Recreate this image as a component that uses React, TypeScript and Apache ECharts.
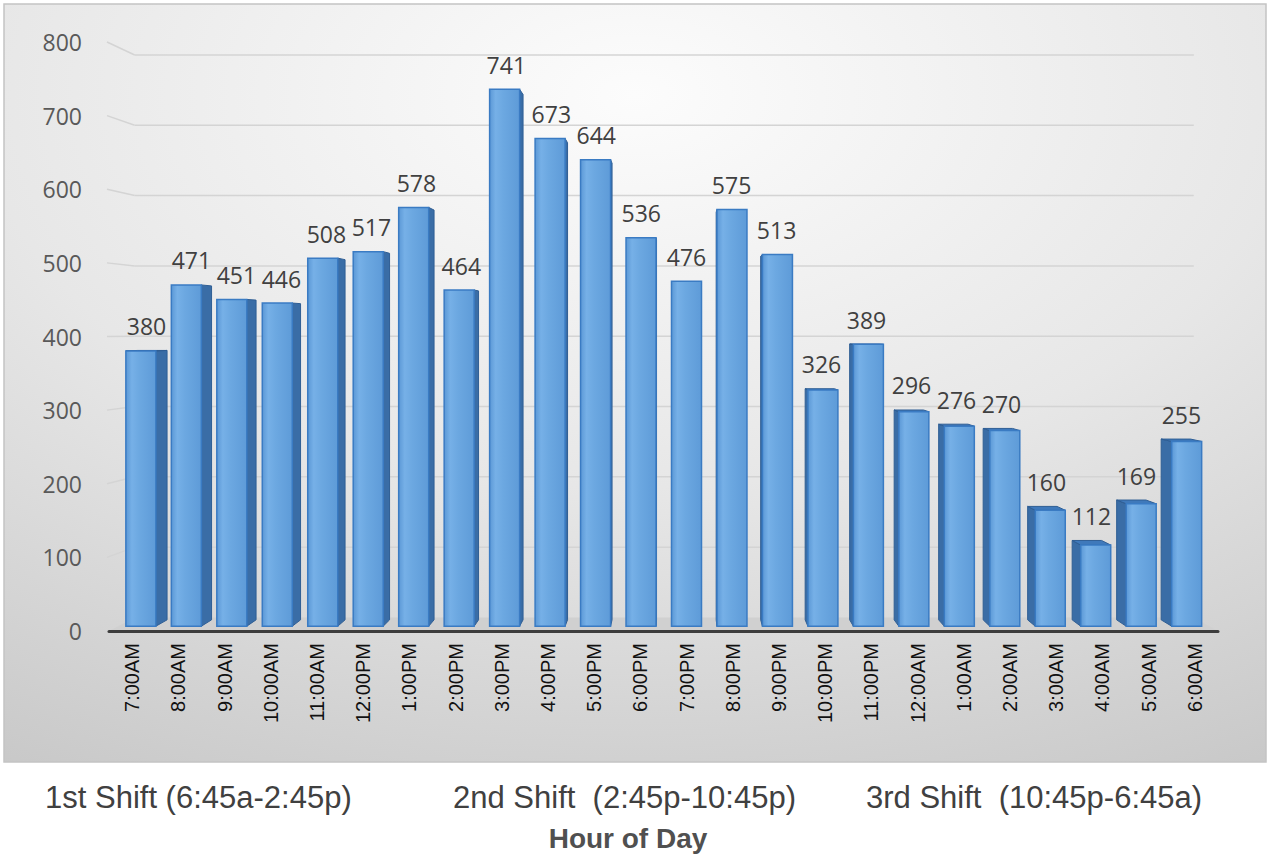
import React, { useEffect, useRef } from "react";
import * as echarts from "echarts";

// Hourly counts, one bar per hour from 7:00AM to 6:00AM
const hours = [
  "7:00AM", "8:00AM", "9:00AM", "10:00AM", "11:00AM", "12:00PM",
  "1:00PM", "2:00PM", "3:00PM", "4:00PM", "5:00PM", "6:00PM",
  "7:00PM", "8:00PM", "9:00PM", "10:00PM", "11:00PM", "12:00AM",
  "1:00AM", "2:00AM", "3:00AM", "4:00AM", "5:00AM", "6:00AM",
];
const counts = [
  380, 471, 451, 446, 508, 517, 578, 464, 741, 673, 644, 536,
  476, 575, 513, 326, 389, 296, 276, 270, 160, 112, 169, 255,
];
const yMin = 0;
const yMax = 800;
const yStep = 100;
const wallLevels = [0, 100, 200, 300, 400, 500, 600, 700, 800];
const shiftLabels = [
  "1st Shift (6:45a-2:45p)",
  "2nd Shift  (2:45p-10:45p)",
  "3rd Shift  (10:45p-6:45a)",
];
const axisTitle = "Hour of Day";

// Perspective: every depth plane is pulled toward a vanishing point
const VX = 680;
const VY = 330;
const FRONT_DEPTH = 0.016;
const BACK_DEPTH = 0.037;
const WALL_DEPTH = 0.045;
const BAR_RATIO = 0.66;

const project = (x: number, y: number, d: number): [number, number] => [
  x + (VX - x) * d,
  y + (VY - y) * d,
];

const labelFont = "'Open Sans', 'Noto Sans', sans-serif";
const plainFont = "'Liberation Sans', Arial, sans-serif";

function renderWall(params: any, api: any) {
  const v = api.value(1);
  const [, y] = api.coord([0, v]);
  const cs = params.coordSys;
  const left = cs.x;
  const right = cs.x + cs.width;
  const wl = project(left, y, WALL_DEPTH);
  const wr = project(right, y, WALL_DEPTH);
  if (v === 0) {
    // floor strip between the axis line and the back wall
    return {
      type: "polygon",
      shape: { points: [[left, y], wl, wr, [right, y]] },
      style: { fill: "#d0d0d0" },
    };
  }
  const stroke = { stroke: "#d4d4d4", lineWidth: 1.5, fill: "none" };
  return {
    type: "group",
    children: [
      { type: "line", shape: { x1: left - 2, y1: y, x2: wl[0], y2: wl[1] }, style: stroke },
      { type: "line", shape: { x1: wl[0], y1: wl[1], x2: wr[0], y2: wr[1] }, style: stroke },
    ],
  };
}

function renderBar(params: any, api: any) {
  const idx = api.value(0);
  const v = api.value(1);
  const [cx, yBase] = api.coord([idx, 0]);
  const [, yTop] = api.coord([idx, v]);
  const half = (api.size([1, 0])[0] * BAR_RATIO) / 2;
  const xl = cx - half;
  const xr = cx + half;

  const ftl = project(xl, yTop, FRONT_DEPTH);
  const ftr = project(xr, yTop, FRONT_DEPTH);
  const fbl = project(xl, yBase, FRONT_DEPTH);
  const fbr = project(xr, yBase, FRONT_DEPTH);
  const btl = project(xl, yTop, BACK_DEPTH);
  const btr = project(xr, yTop, BACK_DEPTH);
  const bbl = project(xl, yBase, BACK_DEPTH);
  const bbr = project(xr, yBase, BACK_DEPTH);

  const children: any[] = [];
  if (ftr[0] < VX) {
    children.push({
      type: "polygon",
      shape: { points: [ftr, btr, bbr, fbr] },
      style: { fill: "#3a6da6", stroke: "#2f5e94", lineWidth: 1 },
    });
  } else if (ftl[0] > VX) {
    children.push({
      type: "polygon",
      shape: { points: [ftl, btl, bbl, fbl] },
      style: { fill: "#3a6da6", stroke: "#2f5e94", lineWidth: 1 },
    });
  }
  if (ftl[1] > VY) {
    children.push({
      type: "polygon",
      shape: { points: [ftl, ftr, btr, btl] },
      style: { fill: "#3f79bb", stroke: "#2f5e94", lineWidth: 1 },
    });
  }
  children.push({
    type: "rect",
    shape: { x: ftl[0], y: ftl[1], width: ftr[0] - ftl[0], height: fbl[1] - ftl[1] },
    style: {
      fill: {
        type: "linear",
        x: 0, y: 0, x2: 1, y2: 0,
        colorStops: [
          { offset: 0, color: "#5b98d6" },
          { offset: 0.2, color: "#76b0e7" },
          { offset: 0.45, color: "#6ca8e1" },
          { offset: 1, color: "#5e9bd8" },
        ],
      },
      stroke: "#3a7bc3",
      lineWidth: 1.5,
    },
  });
  const xs = [ftl[0], ftr[0], btl[0], btr[0]];
  const labelX = (Math.min(...xs) + Math.max(...xs)) / 2;
  const labelY = Math.min(ftl[1], btl[1]) - 13;
  children.push({
    type: "text",
    style: {
      x: labelX,
      y: labelY,
      text: String(v),
      fill: "#404040",
      font: `23px ${labelFont}`,
      align: "center",
      verticalAlign: "bottom",
    },
  });
  return { type: "group", children };
}

export default function App() {
  const ref = useRef<HTMLDivElement>(null);

  useEffect(() => {
    document.body.style.margin = "0";
    if (!ref.current) return;
    const chart = echarts.init(ref.current, undefined, { renderer: "svg" });
    const option: any = {
      animation: false,
      backgroundColor: "#ffffff",
      grid: { left: 109, width: 1109, top: 42, height: 589 },
      xAxis: {
        type: "category",
        data: hours,
        axisLine: { lineStyle: { color: "#3d3d3d", width: 3 } },
        axisTick: { show: false },
        axisLabel: {
          rotate: 90,
          margin: 12,
          color: "#111111",
          fontSize: 20,
          fontFamily: plainFont,
          interval: 0,
        },
        z: 5,
      },
      yAxis: {
        type: "value",
        min: yMin,
        max: yMax,
        interval: yStep,
        axisLine: { show: false },
        axisTick: { show: false },
        splitLine: { show: false },
        axisLabel: {
          margin: 27,
          color: "#595959",
          fontSize: 23,
          fontFamily: labelFont,
        },
      },
      graphic: [
        {
          type: "rect",
          z: -10,
          silent: true,
          shape: { x: 4, y: 4, width: 1262, height: 758 },
          style: {
            fill: {
              type: "radial",
              x: 0.5, y: 0.12, r: 1.15,
              colorStops: [
                { offset: 0, color: "#fcfcfc" },
                { offset: 0.45, color: "#e7e7e7" },
                { offset: 1, color: "#c0c0c0" },
              ],
            },
            stroke: "#c4c4c4",
            lineWidth: 1.5,
          },
        },
        ...shiftLabels.map((t, i) => ({
          type: "text",
          z: 10,
          style: {
            x: [45, 453, 866][i],
            y: 797,
            text: t,
            fill: "#404040",
            font: `31px ${plainFont}`,
            align: "left",
            verticalAlign: "middle",
          },
        })),
        {
          type: "text",
          z: 10,
          style: {
            x: 628,
            y: 838,
            text: axisTitle,
            fill: "#505050",
            font: `bold 28px ${plainFont}`,
            align: "center",
            verticalAlign: "middle",
          },
        },
      ],
      series: [
        {
          type: "custom",
          name: "wall",
          silent: true,
          clip: false,
          data: wallLevels.map((v) => [0, v]),
          renderItem: renderWall,
          z: 1,
        },
        {
          type: "custom",
          name: "count",
          clip: false,
          data: counts.map((v, i) => [i, v]),
          encode: { x: 0, y: 1 },
          renderItem: renderBar,
          z: 3,
        },
      ],
    };
    chart.setOption(option);
    return () => chart.dispose();
  }, []);

  return <div ref={ref} style={{ width: 1271, height: 856 }} />;
}
